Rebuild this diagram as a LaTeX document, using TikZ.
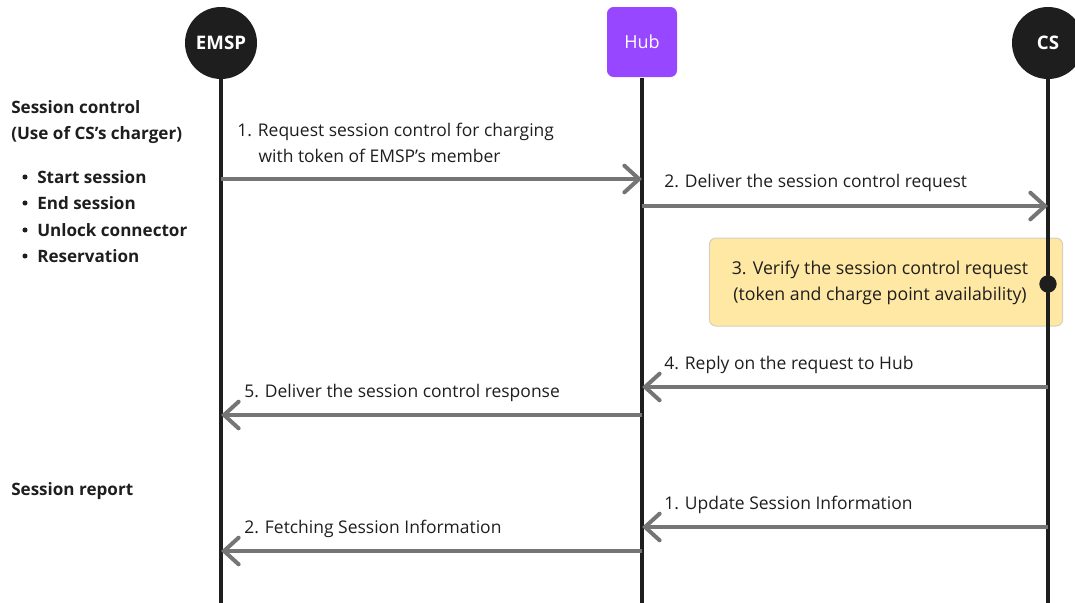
\documentclass[tikz,border=0pt]{standalone}
\usepackage{fontspec}
\setmainfont{Open Sans}
\usetikzlibrary{arrows.meta}
\definecolor{ink}{HTML}{1E1E1E}
\definecolor{hubc}{HTML}{9747FF}
\definecolor{arrowc}{HTML}{757575}
\definecolor{notec}{HTML}{FFE8A3}
\definecolor{noteb}{HTML}{D6D0BE}
\begin{document}
\begin{tikzpicture}[x=0.75pt,y=-0.75pt,
  actor/.style={circle,fill=ink,minimum size=54pt,inner sep=0pt,text=white,font=\fontsize{14}{16}\selectfont\bfseries},
  hubbox/.style={rounded corners=5pt,fill=hubc,minimum width=52.5pt,minimum height=52.5pt,inner sep=0pt,text=white,font=\fontsize{13.5}{16}\selectfont},
  life/.style={draw=ink,line width=3pt},
  msg/.style={draw=arrowc,line width=3pt,-{Straight Barb[length=11pt,width=20pt,line width=3pt,line cap=round]}},
  lbl/.style={anchor=west,inner sep=0pt,text=ink,font=\fontsize{13.1}{19.5}\selectfont,align=left},
  head/.style={anchor=west,inner sep=0pt,text=ink,font=\fontsize{12.8}{19.5}\selectfont\bfseries,align=left},
  notebox/.style={draw=noteb,line width=0.75pt,fill=notec,rounded corners=5pt,minimum width=265pt,minimum height=66pt,inner sep=0pt},
  notetext/.style={inner sep=0pt,text=ink,font=\fontsize{13.3}{19.5}\selectfont,align=center}
]
\useasboundingbox (0,0) rectangle (1075,603);
% note (below the lifeline)
\node[notebox] (note) at (886,282) {};
\node[notetext] (notet) at (880,283) {3. Verify the session control request\\(token and charge point availability)};
% lifelines
\coordinate (et) at (221,78); \coordinate (eb) at (221,603);
\coordinate (ht) at (642,78); \coordinate (hb) at (642,603);
\coordinate (ct) at (1048,78); \coordinate (cb) at (1048,603);
\draw[life] (et) -- (eb);
\draw[life] (ht) -- (hb);
\draw[life] (ct) -- (cb);
% actors
\node[actor] (emsp) at (221,43) {EMSP};
\node[hubbox] (hub) at (642,42) {Hub};
\node[actor] (cs) at (1048,43) {CS};
\fill[ink] (1048,284) circle (6.5pt);
% message endpoints
\coordinate (e1) at (221,179); \coordinate (h1) at (642,179);
\coordinate (h2) at (642,206); \coordinate (c2) at (1048,206);
\coordinate (c4) at (1048,387); \coordinate (h4) at (642,387);
\coordinate (h5) at (642,415); \coordinate (e5) at (221,415);
\coordinate (c6) at (1048,527); \coordinate (h6) at (642,527);
\coordinate (h7) at (642,551); \coordinate (e7) at (221,551);
\draw[msg] (e1) -- (h1);
\draw[msg] (h2) -- (c2);
\draw[msg] (c4) -- (h4);
\draw[msg] (h5) -- (e5);
\draw[msg] (c6) -- (h6);
\draw[msg] (h7) -- (e7);
% labels
\node[lbl] (l1) at (237,143) {1. Request session control for charging\\\hspace*{16pt}with token of EMSP's member};
\node[lbl] (l2) at (664,183) {2. Deliver the session control request};
\node[lbl] (l4) at (664,365) {4. Reply on the request to Hub};
\node[lbl] (l5) at (244,393) {5. Deliver the session control response};
\node[lbl] (l6) at (664,505) {1. Update Session Information};
\node[lbl] (l7) at (244,529) {2. Fetching Session Information};
% left side
\node[head] (sc) at (11,122) {Session control\\(Use of CS's charger)};
\node[head] (b1) at (37,177) {Start session};
\node[head] (b2) at (37,203) {End session};
\node[head] (b3) at (37,230) {Unlock connector};
\node[head] (b4) at (37,256) {Reservation};
\foreach \y in {176,202,229,255} \fill[ink] (25,\y+1) circle (1.9pt);
\node[head] (sr) at (11,491) {Session report};
\end{tikzpicture}
\end{document}
